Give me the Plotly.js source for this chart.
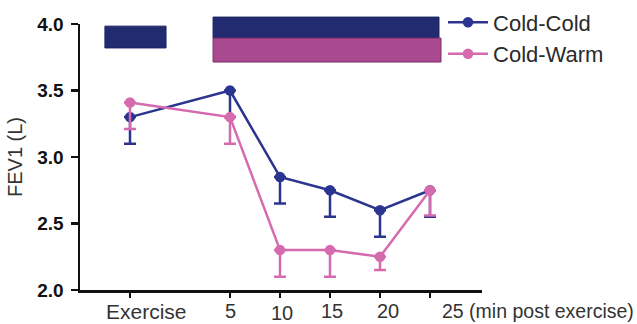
<!DOCTYPE html>
<html>
<head>
<meta charset="utf-8">
<script src="https://cdn.plot.ly/plotly-3.0.1.min.js"></script>
<style>
  html, body { margin: 0; padding: 0; background: #fff; }
  #chart { width: 637px; height: 324px; }
</style>
</head>
<body>
<div id="chart"></div>
<script>
// Time points (minutes relative to the end of exercise; -5 marks the exercise period)
var minutes = [-5, 5, 10, 15, 20, 25];
var timeLabels = ['Exercise', '5', '10', '15', '20', '25 (min post exercise)'];

// FEV1 means (L) and lower error bars
var coldColdFev1 = [3.3, 3.5, 2.85, 2.75, 2.6, 2.75];
var coldColdErr  = [0.2, 0.2, 0.2, 0.2, 0.2, 0.2];
var coldWarmFev1 = [3.41, 3.3, 2.3, 2.3, 2.25, 2.75];
var coldWarmErr  = [0.2, 0.2, 0.2, 0.2, 0.1, 0.19];

var yTicks = [2.0, 2.5, 3.0, 3.5, 4.0];

var navy = '#2b3590';
var pink = '#d66aae';
var zeros = minutes.map(function () { return 0; });

function series(name, y, err, color) {
  return {
    type: 'scatter',
    mode: 'lines+markers',
    name: name,
    x: minutes,
    y: y,
    line: { color: color, width: 2.5 },
    marker: { color: color, size: 10.5 },
    error_y: {
      type: 'data', symmetric: false,
      array: zeros, arrayminus: err,
      color: color, thickness: 2.5, width: 6
    },
    cliponaxis: false
  };
}

var traces = [
  series('Cold-Cold', coldColdFev1, coldColdErr, navy),
  series('Cold-Warm', coldWarmFev1, coldWarmErr, pink)
];

// x tick labels placed individually (the last one runs to the right of its tick)
var labelSizes = [21, 20, 20, 20, 20, 19.5];
var labelShift = [16, 0, 2, 2, 8, 0];
var annotations = minutes.map(function (m, i) {
  var last = i === minutes.length - 1;
  return {
    x: m, xref: 'x', y: -0.079, yref: 'paper',
    text: timeLabels[i], showarrow: false,
    xanchor: last ? 'left' : 'center', yanchor: 'middle',
    xshift: last ? 10 : labelShift[i],
    yshift: (i === 2) ? -2 : 0,
    font: { family: 'Liberation Sans, Arial, sans-serif', size: labelSizes[i], color: '#333' }
  };
});

// Condition bars along the top: exercise in cold, recovery in cold or warm air
var shapes = [
  { type: 'rect', xref: 'paper', yref: 'paper', x0: 0.062, x1: 0.214, y0: 0.910, y1: 0.992,
    fillcolor: '#232b70', line: { color: '#1a2060', width: 1 } },
  { type: 'rect', xref: 'paper', yref: 'paper', x0: 0.331, x1: 0.893, y0: 0.947, y1: 1.026,
    fillcolor: '#232b70', line: { color: '#1a2060', width: 1 } },
  { type: 'rect', xref: 'paper', yref: 'paper', x0: 0.331, x1: 0.898, y0: 0.857, y1: 0.947,
    fillcolor: '#a94a91', line: { color: '#7a2e68', width: 1 } }
];

var layout = {
  width: 637, height: 324,
  margin: { l: 80, r: 155, t: 24, b: 34, autoexpand: false },
  paper_bgcolor: '#fff', plot_bgcolor: '#fff',
  font: { family: 'Liberation Sans, Arial, sans-serif', color: '#222' },
  showlegend: true,
  legend: {
    x: 0.903, xanchor: 'left', y: 1.085, yanchor: 'top',
    font: { size: 22, color: '#2a2a2a' },
    itemwidth: 40,
    bgcolor: 'rgba(0,0,0,0)', borderwidth: 0,
    tracegroupgap: 0
  },
  xaxis: {
    range: [-10, 30.2],
    showgrid: false, zeroline: false,
    showline: true, linecolor: '#111', linewidth: 2.5,
    tickmode: 'array', tickvals: minutes, showticklabels: false,
    ticks: 'outside', ticklen: 5, tickwidth: 2.5, tickcolor: '#111'
  },
  yaxis: {
    range: [2.0, 4.0],
    showgrid: false, zeroline: false,
    showline: true, linecolor: '#111', linewidth: 2.5,
    tickmode: 'array', tickvals: yTicks, tickformat: '.1f',
    ticks: 'outside', ticklen: 7, tickwidth: 2.5, tickcolor: '#111',
    ticklabelstandoff: 3,
    tickfont: { size: 19, color: '#111', weight: 'bold' },
    title: { text: 'FEV1 (L)', font: { size: 20, color: '#333' }, standoff: 10 }
  },
  shapes: shapes,
  annotations: annotations
};

Plotly.newPlot('chart', traces, layout, { displayModeBar: false, staticPlot: true });
</script>
</body>
</html>
